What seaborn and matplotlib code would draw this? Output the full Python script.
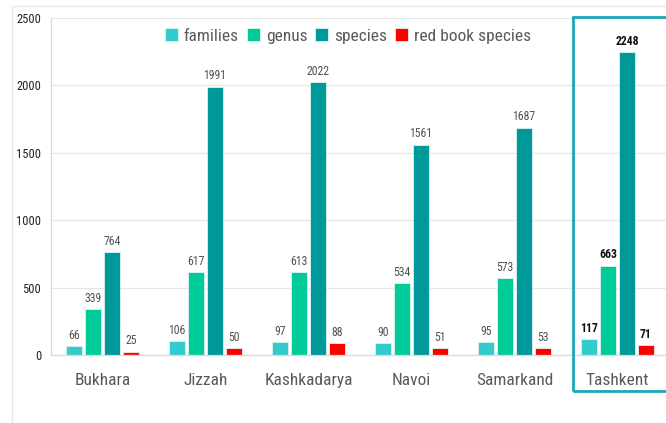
import matplotlib
matplotlib.use("Agg")
import matplotlib.pyplot as plt
import seaborn as sns
import pandas as pd
from matplotlib.patches import Rectangle
from matplotlib.ticker import FixedLocator
from matplotlib import font_manager as fm

regions = ["Bukhara", "Jizzah", "Kashkadarya", "Navoi", "Samarkand", "Tashkent"]
series = ["families", "genus", "species", "red book species"]
families = [66, 106, 97, 90, 95, 117]
genus = [339, 617, 613, 534, 573, 663]
species = [764, 1991, 2022, 1561, 1687, 2248]
red_book = [25, 50, 88, 51, 53, 71]
colors = ["#33CCCC", "#00CC99", "#009999", "#FF0000"]
yticks = [0, 500, 1000, 1500, 2000, 2500]

sns.set_theme(style="white")

names = {f.name for f in fm.fontManager.ttflist}
primary = None
for cand in ["Roboto Condensed", "Liberation Sans Narrow", "Open Sans Condensed", "DejaVu Sans Condensed"]:
    if cand in names:
        primary = cand
        break
STRETCH = "normal"
if primary is None:
    primary = "DejaVu Sans"
    if any(f.name == "DejaVu Sans" and f.stretch != "normal" for f in fm.fontManager.ttflist):
        STRETCH = "condensed"
FONT = [primary, "DejaVu Sans"]
plt.rcParams["font.family"] = FONT
plt.rcParams["font.stretch"] = STRETCH

rows = []
for name, vals in zip(series, [families, genus, species, red_book]):
    for r, v in zip(regions, vals):
        rows.append({"region": r, "series": name, "value": v})
df = pd.DataFrame(rows)

fig = plt.figure(figsize=(6.66, 4.23), dpi=100)
ax = fig.add_axes([51/666, 1-355/423, 618/666, (355-18)/423])

sns.barplot(data=df, x="region", y="value", hue="series", order=regions,
            hue_order=series, palette=colors, saturation=1, width=0.738, gap=0.21,
            edgecolor="#e0f2f2", linewidth=0.6, ax=ax, legend=True)

ax.set_ylim(0, 2500)
ax.set_xlim(-0.5, 5.5)
ax.set_yticks(yticks)
ax.set_yticklabels([str(t) for t in yticks], fontsize=9, color="#222222")
ax.yaxis.grid(True, color="#E6E6E6", linewidth=0.9)
ax.set_axisbelow(True)
ax.set_xlabel("")
ax.set_ylabel("")
for s in ["top", "right"]:
    ax.spines[s].set_visible(False)
for s in ["left", "bottom"]:
    ax.spines[s].set_color("#DADADA")
    ax.spines[s].set_linewidth(0.9)
ax.tick_params(axis="y", length=4, color="#DADADA", pad=3)
ax.tick_params(axis="x", length=0, pad=13, labelsize=12.5, labelcolor="#595959")
ax.xaxis.set_minor_locator(FixedLocator([0.5, 1.5, 2.5, 3.5, 4.5]))
ax.tick_params(axis="x", which="minor", length=7, color="#DADADA", width=0.9)

for cont in ax.containers:
    texts = ax.bar_label(cont, padding=3, fontsize=8.5, color="#505050")
    texts[-1].set_fontweight("bold")
    texts[-1].set_color("#111111")

leg = ax.get_legend()
handles = leg.legend_handles
leg.remove()
fig.legend(handles, series, loc="center", bbox_to_anchor=(348/666, 1-36/423),
           ncol=4, frameon=False, fontsize=12.5, labelcolor="#595959",
           handlelength=0.75, handleheight=0.75, handletextpad=0.35,
           columnspacing=0.45)

fig.patches.append(Rectangle((573/666, 1-391/423), 0.5, (391-17)/423,
                             transform=fig.transFigure, fill=False,
                             edgecolor="#1AA7BA", linewidth=2))
fig.patches.append(Rectangle((12/666, -0.1), 1.5, 1-6/423+0.1,
                             transform=fig.transFigure, fill=False,
                             edgecolor="#E6E6E6", linewidth=1))

fig.savefig("out.png", dpi=100)
